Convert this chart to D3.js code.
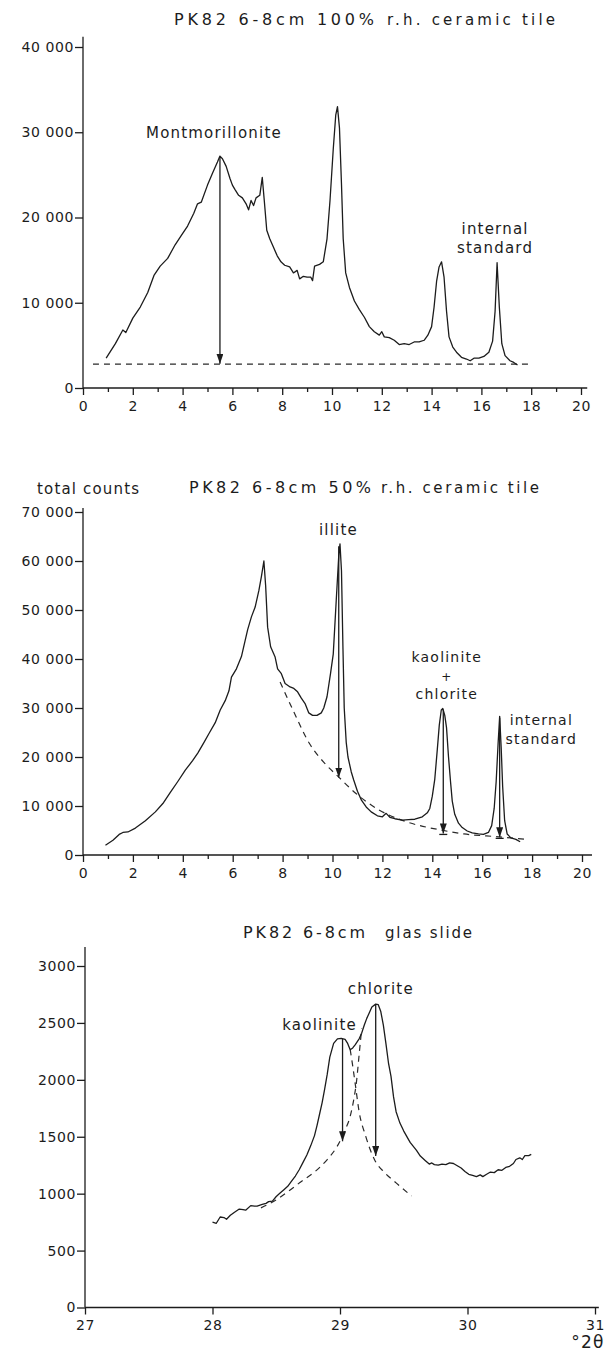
<!DOCTYPE html>
<html lang="en">
<head>
<meta charset="UTF-8">
<title>PK82 6-8cm diffractograms</title>
<script src="https://d3js.org/d3.v7.min.js"></script>
<style>
  body { margin: 0; background: #fff; }
  svg { display: block; font-family: 'DejaVu Sans', sans-serif; }
  .curve { fill: none; stroke: #1c1c1c; stroke-width: 1.3; stroke-linejoin: round; }
  .dash { fill: none; stroke: #2a2a2a; stroke-width: 1.2; stroke-dasharray: 6 5; }
  .axis-line, .arrow { stroke: #1c1c1c; stroke-width: 1.3; }
  .tick line { stroke: #1c1c1c; stroke-width: 1.3; }
  .tick text { fill: #1c1c1c; font-size: 14px; letter-spacing: 0.6px; }
  .lbl { fill: #1c1c1c; font-size: 15px; letter-spacing: 1.2px; text-anchor: middle; }
  .title { fill: #1c1c1c; }
</style>
</head>
<body>
<svg id="chart"></svg>
<script>
// ---- data: top panel, 100% r.h. ceramic tile ----
const tile100X = [0.93,1.3,1.6,1.72,2.0,2.3,2.6,2.85,3.1,3.4,3.7,3.95,4.2,4.45,4.6,4.75,5.0,5.2,5.4,5.5,5.6,5.75,5.9,6.0,6.1,6.25,6.4,6.55,6.65,6.75,6.85,6.95,7.1,7.2,7.28,7.38,7.5,7.65,7.8,7.95,8.1,8.3,8.45,8.6,8.7,8.85,9.0,9.15,9.22,9.3,9.5,9.65,9.8,9.92,10.05,10.15,10.22,10.3,10.38,10.45,10.55,10.7,10.9,11.1,11.3,11.5,11.7,11.9,12.0,12.1,12.3,12.5,12.7,12.9,13.1,13.3,13.5,13.7,13.85,14.0,14.1,14.2,14.3,14.4,14.5,14.6,14.7,14.85,15.0,15.2,15.4,15.55,15.7,15.9,16.1,16.3,16.45,16.55,16.63,16.72,16.82,16.95,17.15,17.3,17.45];
const tile100Y = [3500,5200,6800,6500,8200,9500,11200,13200,14300,15200,16800,17900,19000,20500,21600,21800,23800,25200,26500,27200,26900,26000,24600,23800,23300,22600,22300,21600,20900,22000,21400,22300,22600,24700,22000,18500,17500,16500,15500,14800,14400,14200,13500,13800,12800,13100,13000,13000,12600,14300,14500,14800,17500,22000,28000,32000,33000,30500,24000,17500,13500,11800,10200,9200,8300,7200,6600,6200,6600,6000,5900,5600,5100,5200,5100,5400,5400,5600,6200,7200,9500,12500,14200,14800,13000,9000,6000,4800,4200,3600,3400,3200,3500,3500,3700,4200,5500,9000,14700,9500,5200,3800,3200,3000,2700];
const tile100Base = 2800;
const tile100BaseX = [0.4, 17.9];

// ---- data: middle panel, 50% r.h. ceramic tile ----
const tile50X = [0.9,1.2,1.45,1.6,1.8,2.1,2.5,2.9,3.2,3.5,3.8,4.1,4.4,4.6,4.85,5.05,5.3,5.5,5.7,5.85,5.95,6.15,6.35,6.5,6.6,6.75,6.9,7.05,7.15,7.25,7.32,7.4,7.52,7.7,7.8,7.95,8.1,8.3,8.45,8.6,8.75,8.9,9.05,9.2,9.38,9.55,9.65,9.78,9.92,10.03,10.15,10.25,10.3,10.36,10.42,10.47,10.55,10.62,10.75,10.85,11.0,11.16,11.35,11.55,11.8,12.0,12.15,12.3,12.5,12.8,13.05,13.3,13.6,13.8,13.9,14.0,14.1,14.2,14.28,14.36,14.42,14.5,14.57,14.65,14.73,14.8,14.9,15.05,15.2,15.4,15.6,15.85,16.05,16.25,16.38,16.48,16.56,16.64,16.7,16.76,16.82,16.9,17.0,17.15,17.35,17.52];
const tile50Y = [2000,3000,4200,4600,4700,5500,7000,8800,10500,12800,15000,17300,19300,20800,23000,24800,27000,29600,31500,33500,36300,38000,40500,43800,46000,48600,50600,54000,56800,60000,55000,46500,42500,40400,38000,37000,35000,34300,34000,33300,32000,30900,29000,28500,28500,29000,30000,32300,37000,41000,52000,61000,63500,58000,42000,30000,23000,20000,17000,15300,13000,11200,9800,8800,8000,7800,8500,7700,7400,7100,7200,7300,7800,8600,9500,12000,15500,21500,26500,29600,29900,28500,26000,20000,15000,11000,8300,6500,5600,4900,4500,4300,4200,4600,6000,9500,15000,23000,28300,22000,14000,7000,4300,3500,3200,2700];
const tile50BaseX = [7.9,8.45,9.07,9.69,10.23,10.93,11.86,12.95,14.34,15.27,16.67,17.75];
const tile50BaseY = [35300,29200,22800,18700,16000,12600,9200,6800,5100,4300,3700,3200];

// ---- data: bottom panel, glass slide ----
const glassX = [28.0,28.03,28.06,28.09,28.11,28.14,28.17,28.21,28.24,28.26,28.3,28.33,28.35,28.39,28.42,28.44,28.47,28.5,28.53,28.56,28.59,28.62,28.65,28.68,28.71,28.74,28.77,28.8,28.82,28.84,28.86,28.88,28.9,28.92,28.95,28.98,29.01,29.04,29.06,29.08,29.1,29.12,29.15,29.17,29.19,29.21,29.23,29.25,29.28,29.3,29.32,29.34,29.36,29.38,29.4,29.42,29.44,29.47,29.5,29.55,29.6,29.63,29.67,29.7,29.72,29.74,29.77,29.8,29.83,29.86,29.89,29.92,29.95,29.98,30.01,30.04,30.07,30.1,30.12,30.15,30.18,30.21,30.24,30.27,30.3,30.33,30.36,30.38,30.41,30.43,30.45,30.48,30.5];
const glassY = [750,740,795,790,775,810,835,865,860,855,895,890,890,905,915,930,935,975,1005,1035,1065,1110,1155,1210,1275,1340,1420,1510,1600,1700,1800,1920,2050,2200,2320,2360,2365,2355,2320,2265,2280,2310,2360,2410,2480,2540,2590,2640,2665,2660,2600,2480,2320,2150,2030,1850,1720,1620,1550,1450,1380,1330,1290,1260,1270,1255,1250,1260,1255,1270,1265,1245,1225,1195,1170,1160,1150,1165,1150,1170,1190,1185,1210,1205,1230,1240,1265,1300,1315,1300,1335,1335,1345];
const chloriteFlankX = [28.38,28.5,28.6,28.7,28.8,28.9,28.98,29.04,29.08,29.11,29.13,29.15,29.17];
const chloriteFlankY = [875,945,1025,1110,1190,1300,1420,1560,1680,1840,1990,2220,2450];
const kaoliniteFlankX = [29.08,29.1,29.12,29.15,29.2,29.27,29.35,29.44,29.56];
const kaoliniteFlankY = [2265,2120,1960,1720,1510,1300,1185,1095,980];

// ---- tick labels ----
const tileXTicks = [0,2,4,6,8,10,12,14,16,18,20];
const tileXMinor = [1,3,5,7,9,11,13,15,17,19];
const tile100YTicks = [0,10000,20000,30000,40000];
const tile50YTicks = [0,10000,20000,30000,40000,50000,60000,70000];
const glassXTicks = [27,28,29,30,31];
const glassYTicks = [0,500,1000,1500,2000,2500,3000];

// ---- arrows [x, from, to, base bar] ----
const tile100Arrows = [[5.5, 27000, 2850, false]];
const tile50Arrows = [[10.25, 63000, 15800, false], [14.44, 29700, 4400, true], [16.7, 28000, 3600, true]];
const glassArrows = [[29.02, 2360, 1460, false], [29.28, 2660, 1330, false]];

const zip = (xs, ys) => xs.map((d, i) => [d, ys[i]]);
const fmtSpace = d3.formatLocale({decimal: ".", thousands: " ", grouping: [3], currency: ["", ""]}).format(",");

const W = 606, H = 1356;
const svg = d3.select("#chart").attr("width", W).attr("height", H);

svg.append("defs").append("marker")
    .attr("id", "arrowhead")
    .attr("viewBox", "0 0 10 10")
    .attr("refX", 10).attr("refY", 5)
    .attr("markerUnits", "userSpaceOnUse")
    .attr("markerWidth", 10).attr("markerHeight", 7)
    .attr("preserveAspectRatio", "none")
    .attr("orient", "auto")
  .append("path").attr("d", "M0,0 L10,5 L0,10 z").attr("fill", "#1c1c1c");

function drawPanel(cfg) {
    const g = svg.append("g");
    const x = d3.scaleLinear().domain(cfg.xDomain).range(cfg.xRange);
    const y = d3.scaleLinear().domain(cfg.yDomain).range(cfg.yRange);

    // axes
    g.append("line").attr("class", "axis-line")
        .attr("x1", x(cfg.xDomain[0])).attr("x2", x(cfg.xEnd))
        .attr("y1", y(0)).attr("y2", y(0));
    g.append("line").attr("class", "axis-line")
        .attr("x1", x(cfg.xDomain[0])).attr("x2", x(cfg.xDomain[0]))
        .attr("y1", y(0)).attr("y2", y(cfg.yEnd));

    g.append("g").attr("transform", `translate(0,${y(0)})`)
        .call(d3.axisBottom(x).tickValues(cfg.xTicks).tickSize(7).tickPadding(6).tickFormat(d3.format("d")))
        .call(a => a.select(".domain").remove())
        .attr("font-size", null).attr("font-family", null);
    if (cfg.xMinor) {
        g.append("g").attr("transform", `translate(0,${y(0)})`)
            .call(d3.axisBottom(x).tickValues(cfg.xMinor).tickSize(4).tickFormat(""))
            .call(a => a.select(".domain").remove());
    }
    g.append("g").attr("transform", `translate(${x(cfg.xDomain[0])},0)`)
        .call(d3.axisLeft(y).tickValues(cfg.yTicks).tickSize(8).tickPadding(1).tickFormat(cfg.yFmt))
        .call(a => a.select(".domain").remove())
        .attr("font-size", null).attr("font-family", null);

    const line = d3.line().x(d => x(d[0])).y(d => y(d[1]));
    const smooth = d3.line().x(d => x(d[0])).y(d => y(d[1])).curve(d3.curveMonotoneX);

    (cfg.dashed || []).forEach(pts => {
        g.append("path").datum(pts).attr("class", "dash").attr("d", smooth);
    });
    g.append("path").datum(cfg.series).attr("class", "curve").attr("d", line);

    cfg.arrows.forEach(([ax, from, to, bar]) => {
        g.append("line").attr("class", "arrow")
            .attr("x1", x(ax)).attr("x2", x(ax))
            .attr("y1", y(from)).attr("y2", y(to))
            .attr("marker-end", "url(#arrowhead)");
        if (bar) {
            g.append("line").attr("class", "arrow")
                .attr("x1", x(ax) - 4).attr("x2", x(ax) + 4)
                .attr("y1", y(to) + 1).attr("y2", y(to) + 1);
        }
    });

    cfg.labels.forEach(([txt, lx, ly, size]) => {
        g.append("text").attr("class", "lbl").attr("x", x(lx)).attr("y", y(ly))
            .style("font-size", size ? size + "px" : null).text(txt);
    });

    cfg.titles.forEach(t => {
        g.append("text").attr("class", "title")
            .attr("x", t.x).attr("y", t.y)
            .attr("font-size", t.size)
            .attr("textLength", t.len).attr("lengthAdjust", "spacing")
            .text(t.text);
    });
    return {x, y, g};
}

drawPanel({
    xDomain: [0, 20], xRange: [83, 581], xEnd: 20.25,
    yDomain: [0, 40000], yRange: [388, 47], yEnd: 41200,
    xTicks: tileXTicks, xMinor: tileXMinor, yTicks: tile100YTicks, yFmt: fmtSpace,
    series: zip(tile100X, tile100Y),
    dashed: [zip(tile100BaseX, [tile100Base, tile100Base])],
    arrows: tile100Arrows,
    labels: [["Montmorillonite", 5.26, 29300], ["internal", 16.55, 18050], ["standard", 16.55, 15830]],
    titles: [
        {text: "PK82 6-8cm 100%", x: 174, y: 25, size: 16, len: 200},
        {text: "r.h. ceramic tile", x: 387, y: 25, size: 15, len: 168}
    ]
});

drawPanel({
    xDomain: [0, 20], xRange: [83, 582], xEnd: 20.4,
    yDomain: [0, 70000], yRange: [855, 512], yEnd: 70800,
    xTicks: tileXTicks, xMinor: tileXMinor, yTicks: tile50YTicks, yFmt: fmtSpace,
    series: zip(tile50X, tile50Y),
    dashed: [zip(tile50BaseX, tile50BaseY)],
    arrows: tile50Arrows,
    labels: [["illite", 10.24, 65300], ["kaolinite", 14.58, 39300, 14], ["+", 14.58, 35500, 12], ["chlorite", 14.58, 31800, 14],
             ["internal", 18.37, 26530, 14], ["standard", 18.37, 22650, 14]],
    titles: [
        {text: "total counts", x: 37, y: 494, size: 15, len: 102},
        {text: "PK82 6-8cm 50%", x: 189, y: 493, size: 16, len: 182},
        {text: "r.h. ceramic tile", x: 381, y: 493, size: 15, len: 158}
    ]
});

const glass = drawPanel({
    xDomain: [27, 31], xRange: [85, 595], xEnd: 31.03,
    yDomain: [0, 3000], yRange: [1307.5, 966], yEnd: 3167,
    xTicks: glassXTicks, yTicks: glassYTicks, yFmt: d3.format("d"),
    series: zip(glassX, glassY),
    dashed: [zip(chloriteFlankX, chloriteFlankY), zip(kaoliniteFlankX, kaoliniteFlankY)],
    arrows: glassArrows,
    labels: [["chlorite", 29.32, 2755], ["kaolinite", 28.84, 2438]],
    titles: [
        {text: "PK82 6-8cm", x: 243, y: 938, size: 16, len: 122},
        {text: "glas slide", x: 385, y: 938, size: 15, len: 87}
    ]
});

glass.g.append("text").attr("class", "lbl").attr("x", 588).attr("y", 1348).style("font-size", "17px").text("°2θ");
</script>
</body>
</html>
